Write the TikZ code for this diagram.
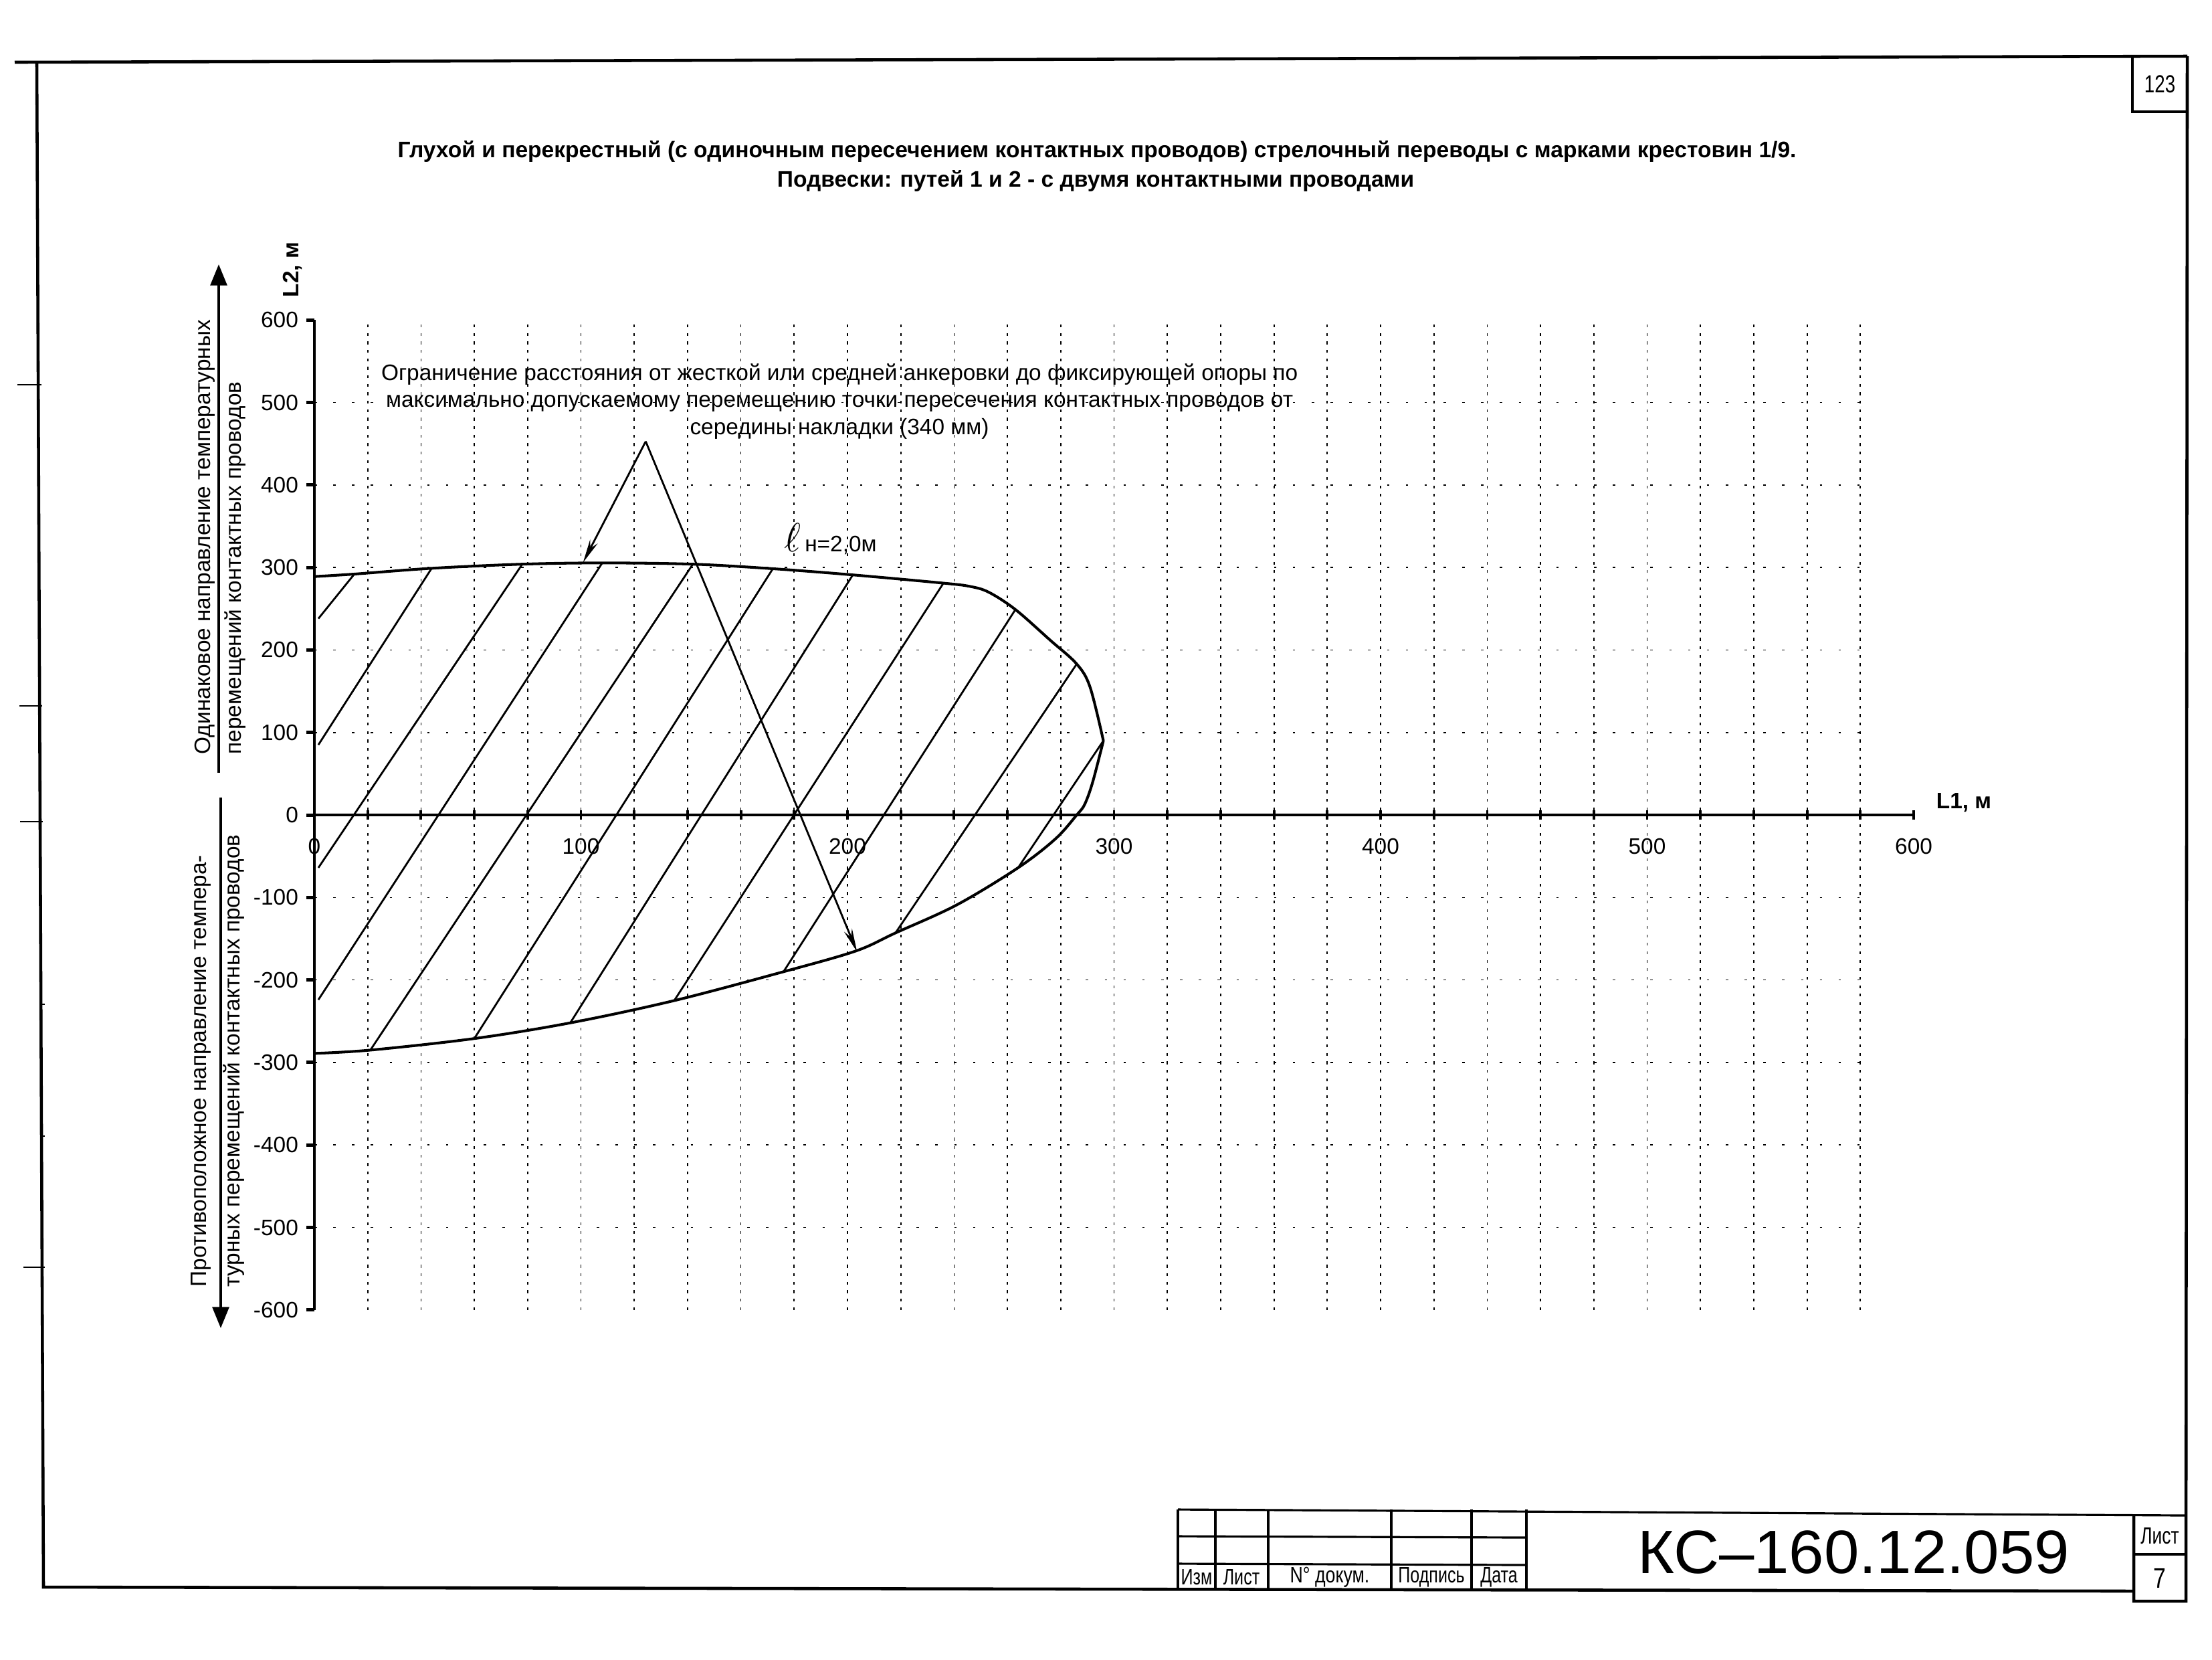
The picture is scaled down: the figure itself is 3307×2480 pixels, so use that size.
\documentclass[tikz,border=0pt]{standalone}
\usepackage{fontspec}
\setmainfont{Liberation Sans}
\usetikzlibrary{arrows.meta}
\newcommand{\ticklabfont}{\fontsize{9.5}{11}\selectfont}
\newcommand{\annfont}{\fontsize{9.5}{11.6}\selectfont}
\newcommand{\titfont}{\fontsize{9.55}{10}\selectfont\bfseries}
\newcommand{\sidefont}{\fontsize{9.5}{11}\selectfont}
\newcommand{\gostsmall}{\fontsize{9.5}{10}\selectfont}
\begin{document}
\begin{tikzpicture}[x=0.01cm,y=-0.01cm,
  frameline/.style={line width=1.3pt},
  thinline/.style={line width=0.9pt},
  edgemark/.style={line width=0.5pt},
  axisline/.style={line width=1.4pt},
  xaxisline/.style={line width=1.0pt},
  xtickmark/.style={line width=1.1pt},
  vgrid/.style={line width=0.5pt, dash pattern=on 1.2pt off 2.4pt},
  hgrid/.style={line width=0.45pt, dash pattern=on 1pt off 7pt},
  bound/.style={line width=1.15pt, line join=round},
  hatchline/.style={line width=0.8pt},
  pointer/.style={line width=0.8pt, -{Stealth[length=10pt,width=3.6pt]}},
  dirarrow/.style={line width=1.2pt, -{Triangle[length=9pt,width=7pt]}},
  ticklab/.style={font=\ticklabfont, inner sep=1pt},
]
\useasboundingbox (0,0) rectangle (3307,2480);

% ---------- sheet frame ----------
\draw[frameline] (22,93) -- (3270,84);
\draw[frameline] (55,92) -- (65,2372) -- (3190,2378);
\draw[frameline] (3270,84) -- (3268,2393) -- (3190,2393) -- (3190,2264);
\draw[frameline] (3188,84) -- (3188,167) -- (3270,167);
\node[font=\fontsize{10.5}{12}\selectfont] (pagenum) at (3229,126) {\scalebox{0.75}[1]{123}};

% binding marks on the left edge
\draw[edgemark] (26,575) -- (62,575);
\draw[edgemark] (29,1055) -- (63,1055);
\draw[edgemark] (30,1228) -- (64,1228);
\draw[edgemark] (59,1501) -- (67,1501);
\draw[edgemark] (60,1698) -- (67,1698);
\draw[edgemark] (35,1894) -- (67,1894);

% ---------- title block ----------
\draw[thinline] (1761,2256) -- (3268,2265);
\draw[thinline] (1761,2296) -- (2282,2298);
\draw[thinline] (1761,2337) -- (2282,2339);
\foreach \cx in {1761,1817,1896,2080,2200,2282}
  \draw[thinline] (\cx,2256) -- (\cx,2376);
\draw[thinline] (3190,2323) -- (3268,2323);
\node[font=\fontsize{26}{28}\selectfont] (docnum) at (2771,2320) {\scalebox{1.03}[1]{КС–160.12.059}};
\node[font=\fontsize{10}{11}\selectfont] (sheetlab) at (3229,2296) {\scalebox{0.75}[1]{Лист}};
\node[font=\fontsize{12}{13}\selectfont] (sheetno) at (3229,2359) {\scalebox{0.8}[1]{7}};
\node[font=\gostsmall] (cizm) at (1789,2357) {\scalebox{0.75}[1]{Изм}};
\node[font=\gostsmall] (clist) at (1856,2357) {\scalebox{0.75}[1]{Лист}};
\node[font=\gostsmall] (cdoc) at (1988,2357) {\scalebox{0.8}[1]{N° докум.}};
\node[font=\gostsmall] (csign) at (2140,2357) {\scalebox{0.75}[1]{Подпись}};
\node[font=\gostsmall] (cdate) at (2241,2357) {\scalebox{0.75}[1]{Дата}};

% ---------- titles ----------
\node[font=\titfont] (title1) at (1640,226) {Глухой и перекрестный (с одиночным пересечением контактных проводов) стрелочный переводы с марками крестовин 1/9.};
\node[font=\titfont] (title2) at (1638,270) {Подвески: путей 1 и 2 - с двумя контактными проводами};

% ---------- side texts and arrows ----------
\node[font=\sidefont, rotate=90, anchor=west, inner sep=0pt] (dirup1) at (306,1128) {Одинаковое направление температурных};
\node[font=\sidefont, rotate=90, anchor=west, inner sep=0pt] (dirup2) at (352,1128) {перемещений контактных проводов};
\node[font=\sidefont, rotate=90, anchor=west, inner sep=0pt] (dirdn1) at (300,1924) {Противоположное направление темпера-};
\node[font=\sidefont, rotate=90, anchor=west, inner sep=0pt] (dirdn2) at (350,1924) {турных перемещений контактных проводов};
\coordinate (upS) at (327,1155);
\coordinate (upE) at (327,395);
\coordinate (dnS) at (330,1192);
\coordinate (dnE) at (330,1985);
\draw[dirarrow] (upS) -- (upE);
\draw[dirarrow] (dnS) -- (dnE);

% axis titles
\node[font=\sidefont\bfseries, rotate=90, anchor=west, inner sep=0pt] (L2lab) at (437,445) {L2, м};
\node[font=\sidefont\bfseries] (L1lab) at (2936,1200) {L1, м};

% ---------- chart ----------
\begin{scope}[shift={(470,1218)}, xscale=3.985, yscale=-1.233]
  % grid
  \foreach \gx in {20,40,...,580}
    \draw[vgrid] (\gx,-600) -- (\gx,600);
  \foreach \gy in {-500,-400,-300,-200,-100,100,200,300,400,500}
    \draw[hgrid] (0,\gy) -- (580,\gy);
  % axes
  \draw[axisline] (0,-600) -- (0,600);
  \foreach \ty in {-600,-500,...,600}
    \draw[axisline] (0,\ty) -- (-3,\ty);
  \draw[xaxisline] (-2.5,0) -- (600,0);
  \foreach \tx in {20,40,...,600}
    \draw[xtickmark] (\tx,-6) -- (\tx,6);
  % tick labels
  \foreach \ty in {-600,-500,...,600}
    \node[ticklab, anchor=east] (yl\ty) at (-5,\ty) {\ty};
  \foreach \tx in {0,100,...,600}
    \node[ticklab] (xl\tx) at (\tx,-38) {\tx};

  % boundary of the admissible zone
  \draw[bound] plot[smooth, tension=0.55] coordinates {
    (0,289) (15,292) (44,299) (78,304) (108,305.5) (142,304) (172,298.5)
    (202,291) (236,281) (246,277) (253,270) (263,249) (276,212) (286,183)
    (291,155) (296,90)};
  \draw[bound] plot[smooth, tension=0.55] coordinates {
    (296,90) (292,40) (289,13) (286,0) (278,-29) (264,-64) (241,-109)
    (218,-143) (203,-165) (176,-190) (135,-225) (96,-252)
    (60,-271) (21,-285) (0,-289)};

  % hatching
  \foreach \xa/\ya/\xb/\yb in {
      1.5/238/15/292, 1.5/85/44/299, 1.5/-64/78/304, 1.5/-224/108/305.5,
      21/-285/142/304, 60/-271/172/298.5, 96/-252/202/291, 135/-225/236/281,
      176/-190/263/249, 218/-143/286/183, 264/-64/296/90}
    \draw[hatchline] (\xa,\ya) -- (\xb,\yb);

  % pointer from the note
  \coordinate (apex) at (124.3,452.7);
  \coordinate (tipL) at (100.8,306);
  \coordinate (tipR) at (203.6,-166);
  \draw[pointer] (apex) -- (tipL);
  \draw[pointer] (apex) -- (tipR);
\end{scope}

% note text
\node[font=\annfont, align=center] (note) at (1255,600) {Ограничение расстояния от жесткой или средней анкеровки до фиксирующей опоры по\\максимально допускаемому перемещению точки пересечения контактных проводов от\\середины накладки (340 мм)};

% curve label
\node[anchor=west, inner sep=0pt] (lnlabel) at (1172,806) {{\fontsize{16}{16}\selectfont$\ell$}{\ticklabfont\,н=2,0м}};
\end{tikzpicture}
\end{document}
